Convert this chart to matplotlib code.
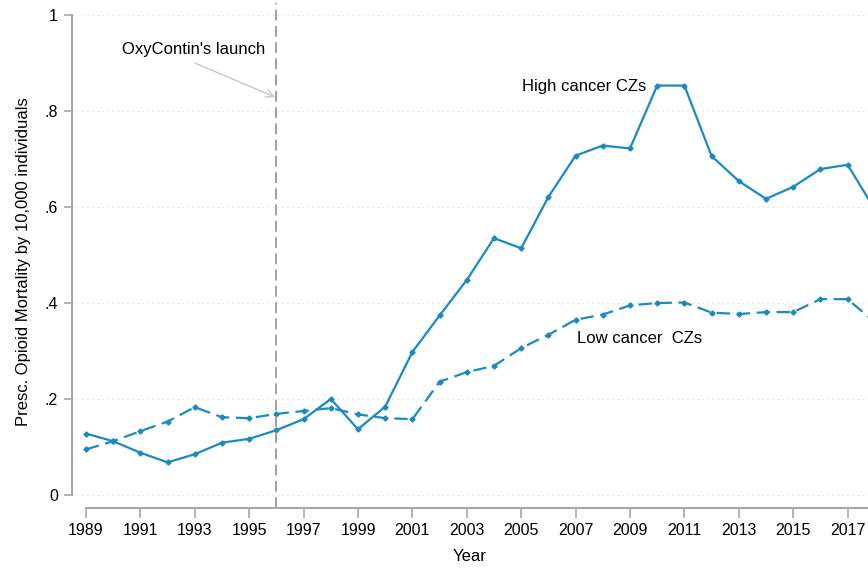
import matplotlib.pyplot as plt
import numpy as np

plt.rcParams['font.family'] = ['Liberation Sans', 'DejaVu Sans']

years = list(range(1989, 2019))
high_cancer = [0.128, 0.112, 0.088, 0.068, 0.085, 0.109, 0.117, 0.135, 0.158, 0.200,
               0.137, 0.184, 0.298, 0.374, 0.448, 0.535, 0.514, 0.621, 0.707, 0.728,
               0.722, 0.853, 0.853, 0.706, 0.654, 0.617, 0.642, 0.679, 0.688, 0.595]
low_cancer = [0.095, 0.112, 0.133, 0.153, 0.183, 0.162, 0.160, 0.169, 0.175, 0.181,
              0.168, 0.160, 0.158, 0.236, 0.256, 0.269, 0.306, 0.334, 0.365, 0.376,
              0.395, 0.400, 0.401, 0.380, 0.377, 0.381, 0.381, 0.408, 0.408, 0.360]
launch_year = 1996
yticks = [0, 0.2, 0.4, 0.6, 0.8, 1]
ytick_labels = ['0', '.2', '.4', '.6', '.8', '1']

blue = '#1a8ac2'
gray = '#a8a8a8'

fig = plt.figure(figsize=(8.68, 5.68), dpi=100)
ax = fig.add_axes([72 / 868, 60 / 568, 1 - 72 / 868, 493 / 568])

ax.plot(years, high_cancer, '-', color=blue, lw=1.6, marker='D', ms=2.6)
ax.plot(years, low_cancer, '--', color=blue, lw=1.6, marker='D', ms=2.6, dashes=(6, 3))

ax.set_xlim(1989 - 14 / 27.2, 1989 + (868 - 86) / 27.2)
ax.set_ylim(-13 / 480, 1)

# OxyContin launch
ax.axvline(launch_year, ymin=0, ymax=1 + 12 / 493, color='#999999', lw=1.3,
           dashes=(6, 3), clip_on=False)
ax.text(1990.32, 0.929, "OxyContin's launch", fontsize=12, ha='left', va='center')
ax.annotate('', xy=(launch_year - 0.05, 0.829), xytext=(1993.0, 0.9),
            arrowprops=dict(arrowstyle='->', color='#c8c8c8', lw=1, shrinkA=0, shrinkB=0,
                            mutation_scale=14))

ax.text(2005.03, 0.852, 'High cancer CZs', fontsize=12, ha='left', va='center')
ax.text(2007.05, 0.327, 'Low cancer  CZs', fontsize=12, ha='left', va='center')

ax.set_yticks(yticks)
ax.set_yticklabels(ytick_labels)
ax.set_xticks(np.arange(1989, 2018, 2))
ax.tick_params(axis='both', colors=gray, labelcolor='black', labelsize=11.5, width=1.2)
ax.tick_params(axis='x', length=7, pad=4)
ax.tick_params(axis='y', length=6, pad=4)

for y in yticks:
    ax.axhline(y, color='#dddddd', lw=0.9, ls=(0, (1, 3)), zorder=0)

for side in ['top', 'right']:
    ax.spines[side].set_visible(False)
ax.spines['left'].set_bounds(0, 1)
ax.spines['bottom'].set_bounds(1989, 2030)
ax.spines['left'].set_color(gray)
ax.spines['bottom'].set_color(gray)
ax.spines['left'].set_linewidth(1.5)
ax.spines['bottom'].set_linewidth(1.5)

ax.set_ylabel('Presc. Opioid Mortality by 10,000 individuals', fontsize=12, labelpad=10)
ax.set_xlabel('Year', fontsize=12, labelpad=8)

fig.savefig('out.png', dpi=100)
